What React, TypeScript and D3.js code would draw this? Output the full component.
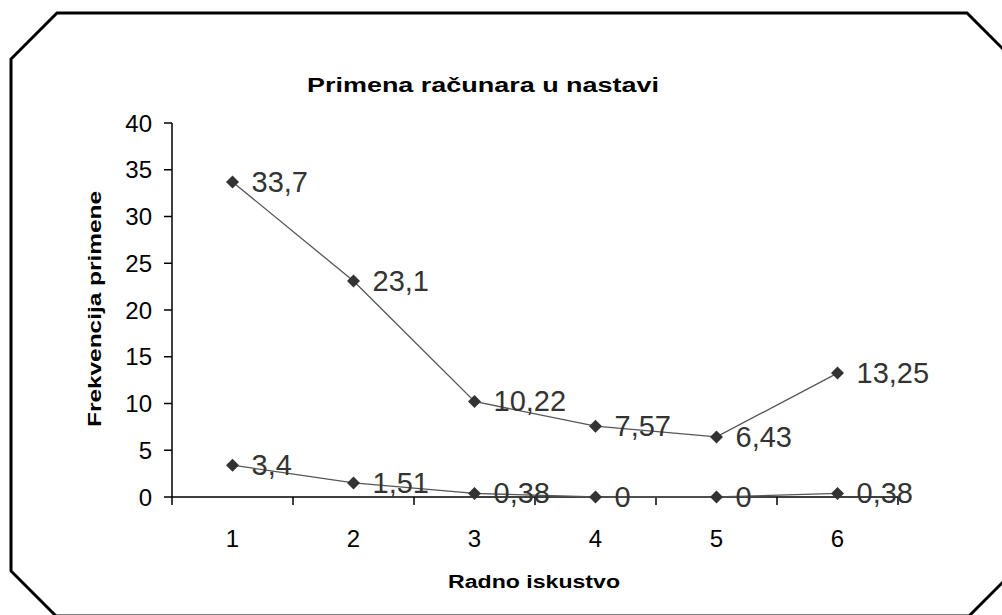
import React from "react";
import * as d3 from "d3";

const categories = ["1", "2", "3", "4", "5", "6"];
const seriesA = [33.7, 23.1, 10.22, 7.57, 6.43, 13.25];
const seriesB = [3.4, 1.51, 0.38, 0, 0, 0.38];
const yTicks = [0, 5, 10, 15, 20, 25, 30, 35, 40];
const title = "Primena računara u nastavi";
const xTitle = "Radno iskustvo";
const yTitle = "Frekvencija primene";

const W = 1002;
const H = 615;
const left = 172;
const right = 898;
const top = 123;
const bottom = 497;

const fmt = (v: number) => String(v).replace(".", ",");

export default function App() {
  const x = d3.scaleBand<string>().domain(categories).range([left, right]).padding(0);
  const y = d3.scaleLinear().domain([0, 40]).range([bottom, top]);
  const cx = (i: number) => (x(categories[i]) as number) + x.bandwidth() / 2;
  const line = d3
    .line<number>()
    .x((_, i) => cx(i))
    .y((d) => y(d));
  const r = 6.5;
  const diamond = `M0,${-r}L${r},0L0,${r}L${-r},0Z`;
  const boundaries = [...categories.map((c) => x(c) as number), right];
  const border = [
    [57, 13], [967, 13], [1004, 50], [1004, 581], [969, 616], [56, 616], [11, 571], [11, 59],
  ];
  const font = "'Liberation Sans', Arial, sans-serif";
  const series = [seriesA, seriesB];

  return (
    <svg
      width={W}
      height={H}
      style={{ position: "absolute", left: 0, top: 0, background: "#fff" }}
      fontFamily={font}
    >
      <rect x={0} y={0} width={W} height={H} fill="#fff" />
      <polygon
        points={border.map((p) => p.join(",")).join(" ")}
        fill="#fff"
        stroke="#000"
        strokeWidth={3}
      />
      <text
        x={483}
        y={85}
        textAnchor="middle"
        dominantBaseline="central"
        fontWeight="bold"
        fontSize={20}
        textLength={352}
        lengthAdjust="spacingAndGlyphs"
      >
        {title}
      </text>
      <text
        transform={`translate(95,309) rotate(-90)`}
        textAnchor="middle"
        dominantBaseline="central"
        fontWeight="bold"
        fontSize={18}
        textLength={236}
        lengthAdjust="spacingAndGlyphs"
      >
        {yTitle}
      </text>
      <text
        x={534}
        y={582}
        textAnchor="middle"
        dominantBaseline="central"
        fontWeight="bold"
        fontSize={18}
        textLength={172}
        lengthAdjust="spacingAndGlyphs"
      >
        {xTitle}
      </text>

      {/* y axis */}
      <line x1={left} x2={left} y1={top} y2={bottom} stroke="#000" strokeWidth={1.5} />
      {yTicks.map((t) => (
        <g key={t}>
          <line x1={left - 8} x2={left} y1={y(t)} y2={y(t)} stroke="#000" strokeWidth={1.5} />
          <text
            x={152}
            y={y(t)}
            textAnchor="end"
            dominantBaseline="central"
            fontSize={24}
            fill="#000"
          >
            {t}
          </text>
        </g>
      ))}

      {/* x axis */}
      <line x1={left} x2={right} y1={bottom} y2={bottom} stroke="#000" strokeWidth={1.5} />
      {boundaries.map((b, i) => (
        <line key={i} x1={b} x2={b} y1={bottom} y2={bottom + 8} stroke="#000" strokeWidth={1.5} />
      ))}
      {categories.map((c, i) => (
        <text
          key={c}
          x={cx(i)}
          y={538}
          textAnchor="middle"
          dominantBaseline="central"
          fontSize={24}
        >
          {c}
        </text>
      ))}

      {series.map((s, si) => (
        <g key={si}>
          <path d={line(s) as string} fill="none" stroke="#555" strokeWidth={1.3} />
          {s.map((v, i) => (
            <path key={i} d={diamond} transform={`translate(${cx(i)},${y(v)})`} fill="#333" />
          ))}
          {s.map((v, i) => (
            <text
              key={"l" + i}
              x={cx(i) + 19}
              y={y(v)}
              dominantBaseline="central"
              fontSize={29}
              fill="#333"
            >
              {fmt(v)}
            </text>
          ))}
        </g>
      ))}
    </svg>
  );
}
